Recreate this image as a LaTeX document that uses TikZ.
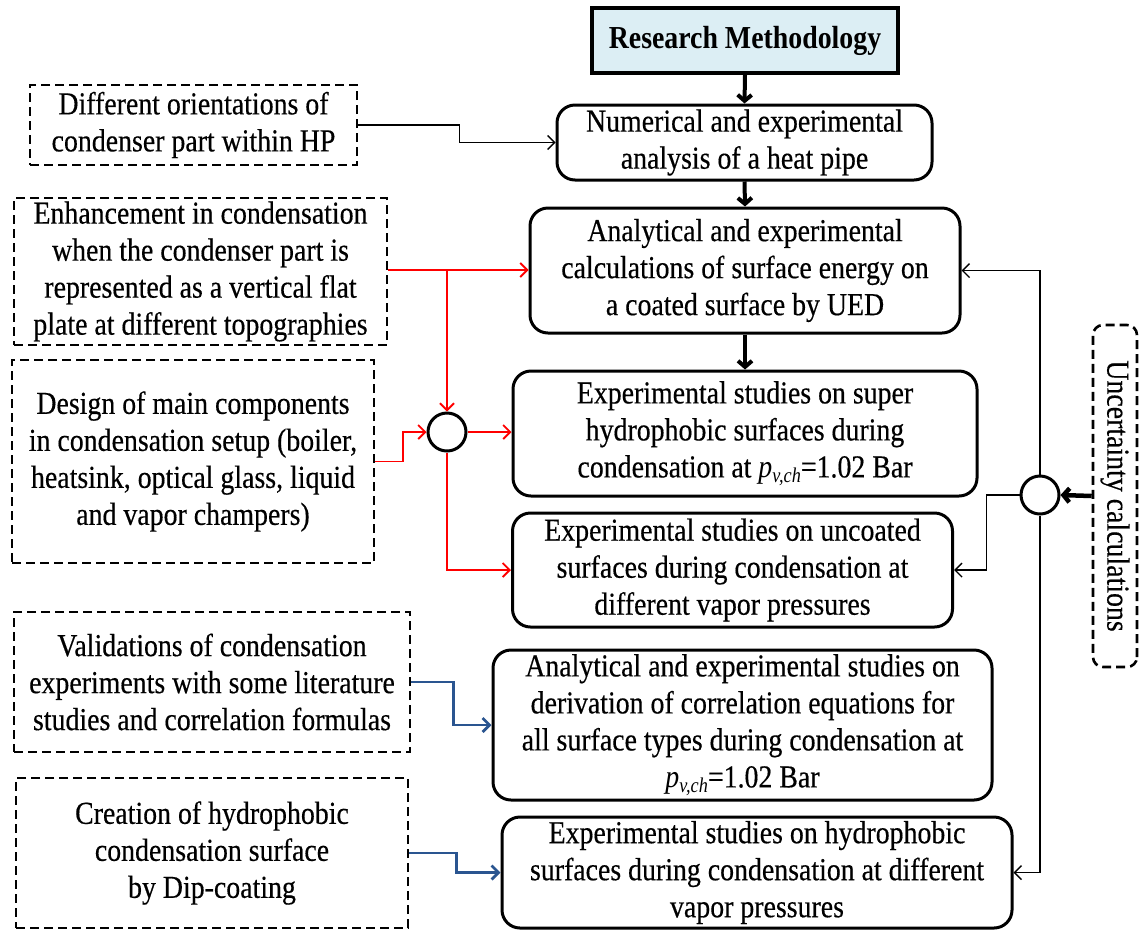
\documentclass[tikz,border=0pt]{standalone}
\usepackage{fontspec}
\setmainfont{Liberation Serif}[FakeStretch=0.87, UprightFeatures={FakeBold=0.4}]
\usetikzlibrary{arrows.meta,calc}
\definecolor{blueC}{HTML}{2A5590}
\definecolor{rmfill}{HTML}{DCEEF4}
\newcommand{\pvch}{\textit{p}\raisebox{-0.35ex}{\fontsize{21}{21}\selectfont\textit{v,ch}}}
\begin{document}
\begin{tikzpicture}[x=1pt,y=-1pt,
  txt/.style={font=\fontsize{32}{37}\selectfont, align=center, inner sep=0pt},
  mainbox/.style={txt, draw, line width=3pt, rounded corners=18pt},
  dbox/.style={txt, draw, line width=2.6pt, dash pattern=on 9pt off 5pt},
  joint/.style={circle, draw, line width=3pt, minimum size=38pt, inner sep=0pt},
  thinc/.style={line width=1.4pt, -{Straight Barb[length=7pt,width=14pt]}},
  redc/.style={red, line width=1.8pt, -{Straight Barb[length=7pt,width=14pt]}},
  bluec/.style={blueC, line width=2.8pt, -{Straight Barb[length=7pt,width=14pt]}},
  heavy/.style={line width=4pt, -{Straight Barb[length=6pt,width=14pt]}},
]
\useasboundingbox (0,0) rectangle (1139,930);

% main column
\node[txt, draw, line width=3.2pt, fill=rmfill, minimum width=306pt, minimum height=65pt, font=\fontsize{32}{37}\selectfont\bfseries] (rm) at (745,40.5) {Research Methodology};
\node[mainbox, minimum width=375pt, minimum height=75pt] (num) at (744.5,142.5) {Numerical and experimental\\analysis of a heat pipe};
\node[mainbox, minimum width=430pt, minimum height=125pt] (ana) at (745,270.5) {Analytical and experimental\\calculations of surface energy on\\a coated surface by UED};
\node[mainbox, minimum width=464pt, minimum height=125pt] (sup) at (745,433.5) {Experimental studies on super\\hydrophobic surfaces during\\condensation at \pvch=1.02 Bar};
\node[mainbox, minimum width=440pt, minimum height=114pt] (unc) at (732.5,570) {Experimental studies on uncoated\\surfaces during condensation at\\different vapor pressures};
\node[mainbox, minimum width=499pt, minimum height=150pt] (cor) at (742.5,725) {Analytical and experimental studies on\\derivation of correlation equations for\\all surface types during condensation at\\\pvch=1.02 Bar};
\node[mainbox, minimum width=510pt, minimum height=111pt] (hyd) at (757,872.5) {Experimental studies on hydrophobic\\surfaces during condensation at different\\vapor pressures};

% dashed boxes
\node[dbox, minimum width=327pt, minimum height=80pt] (dA) at (193.5,125) {Different orientations of\\condenser part within HP};
\node[dbox, minimum width=373pt, minimum height=147pt] (dB) at (200.5,271.5) {Enhancement in condensation\\when the condenser part is\\represented as a vertical flat\\plate at different topographies};
\node[dbox, minimum width=362pt, minimum height=203pt] (dC) at (193,461.5) {Design of main components\\in condensation setup (boiler,\\heatsink, optical glass, liquid\\and vapor champers)};
\node[dbox, minimum width=396pt, minimum height=140pt] (dD) at (212,682) {Validations of condensation\\experiments with some literature\\studies and correlation formulas};
\node[dbox, minimum width=392pt, minimum height=150pt] (dE) at (212,853) {Creation of hydrophobic\\condensation surface\\by Dip-coating};
\node[dbox, rounded corners=10pt, rotate=-90, minimum width=342pt, minimum height=44pt] (ubox) at (1115,496) {Uncertainty calculations};

% joints
\node[joint] (c1) at (447,432) {};
\node[joint] (c2) at (1040,495) {};

% main flow
\draw[heavy] (rm.south) -- (num.north);
\draw[heavy] (num.south) -- (ana.north);
\draw[heavy] (ana.south) -- (sup.north);

% black thin
\draw[thinc] (dA.east) -- ++(101,0) |- (num.west);

% red
\coordinate (rb) at (447,270);
\draw[redc] (dB.east |- rb) -- (rb -| ana.west);
\draw[redc] (rb) -- (c1.north);
\draw[redc] (dC.east) -- ++(28,0) |- (c1.west);
\draw[redc] (c1.east) -- (c1.east -| sup.west);
\draw[redc] (c1.south) |- (unc.west);

% blue
\draw[bluec] (dD.east) -- ++(42,0) |- (cor.west);
\draw[bluec] (dE.east) -- ++(47,0) |- (hyd.west);

% uncertainty
\draw[line width=4.5pt, -{Straight Barb[length=6pt,width=14pt]}] (ubox.south) -- (c2.east);
\draw[thinc] (c2.north) |- (ana.east);
\draw[thinc] (c2.west) -- ++(-33,0) |- (unc.east);
\draw[thinc] (c2.south) |- (hyd.east);
\end{tikzpicture}
\end{document}
